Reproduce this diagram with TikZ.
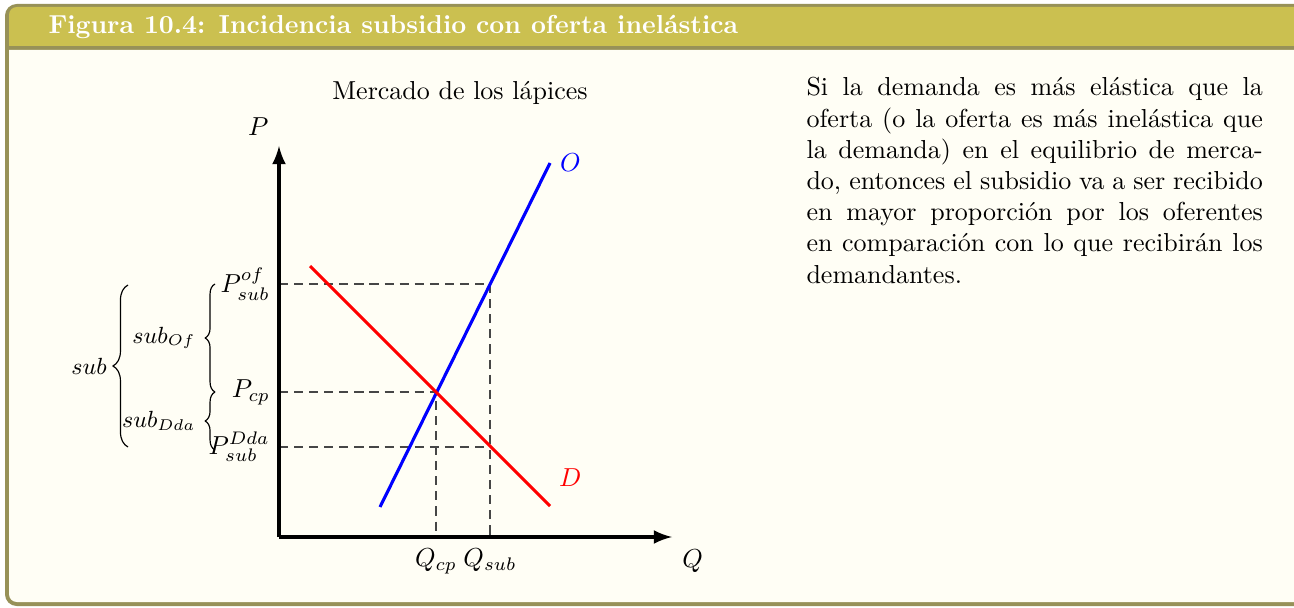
\documentclass[tikz,border=0pt]{standalone}
\usepackage{tikz}
\usetikzlibrary{decorations.pathreplacing}
\definecolor{frame}{RGB}{151,145,88}
\definecolor{titlebg}{RGB}{203,192,80}
\definecolor{paper}{RGB}{255,254,245}
\definecolor{guide}{RGB}{70,70,70}

\begin{document}
\begin{tikzpicture}[x=0.3846pt,y=0.3846pt,line join=round,
  axisline/.style={line width=1.4pt,-latex},
  curve/.style={line width=1.2pt},
  guideline/.style={guide,line width=.5pt,dash pattern=on 3.5pt off 2.3pt},
  bracepath/.style={decorate,decoration={brace,amplitude=#1},line width=.45pt}]
\clip (0,0) rectangle (1294,607);
% box
\path[fill=frame,rounded corners=4.5pt] (5,1) rectangle (1330,603);
\path[fill=titlebg] (9,561) [rounded corners=3pt] -- (9,600) -- (1326,600) [sharp corners] -- (1326,561) -- cycle;
\path[fill=paper] (9,557) [rounded corners=3pt] -- (9,5) -- (1326,5) [sharp corners] -- (1326,557) -- cycle;
\node[anchor=base west,inner sep=0,text=white,font=\bfseries] (title) at (48,573) {Figura 10.4: Incidencia subsidio con oferta inel\'astica};
% graph
\node[anchor=base] (market) at (460,507) {Mercado de los l\'apices};
\coordinate (orig) at (279,70);
\coordinate (ptop) at (279,461);
\coordinate (qend) at (672,70);
\coordinate (pof) at (279,323);
\coordinate (pcp) at (279,215);
\coordinate (pdda) at (279,160);
\coordinate (sof) at (490,323);
\coordinate (eq) at (436,215);
\coordinate (ddda) at (490,160);
\coordinate (qcp) at (436,70);
\coordinate (qsub) at (490,70);
\draw[guideline] (pof) -- (sof) -- (qsub);
\draw[guideline] (pcp) -- (eq) -- (qcp);
\draw[guideline] (pdda) -- (ddda);
\coordinate (s0) at (380,100);
\coordinate (s1) at (550,444);
\coordinate (d0) at (310,341);
\coordinate (d1) at (550,101);
\draw[curve,blue] (s0) -- (s1) node[right] (olab) {$O$};
\draw[curve,red] (d0) -- (d1);
\node[right,text=red] (dlab) at (550,129) {$D$};
\draw[axisline] (orig) -- (ptop) node[above left] (plab) {$P$};
\draw[axisline] (orig) -- (qend) node[below right,yshift=-1pt] (qlab) {$Q$};
\node[left] (pofl) at (pof) {$P^{of}_{sub}$};
\node[left] (pcpl) at (pcp) {$P_{cp}$};
\node[left] (pddal) at (pdda) {$P^{Dda}_{sub}$};
\node[below,yshift=-1pt] (qcpl) at (qcp) {$Q_{cp}$};
\node[below,yshift=-1pt] (qsubl) at (qsub) {$Q_{sub}$};
% braces
\draw[bracepath=3.8pt] (215,215) -- (215,323) node[midway,left=4pt,font=\small] (subof) {$sub_{Of}$};
\draw[bracepath=3.8pt] (215,157) -- (215,215) node[midway,left=4pt,font=\small] (subdda) {$sub_{Dda}$};
\draw[bracepath=5.8pt] (128,160) -- (128,322) node[midway,left=4.6pt,font=\small] (subtot) {$sub$};
% text
\node[anchor=north west,inner sep=0,text width=175.5pt,align=justify] (expl) at (806,530) {Si la demanda es m\'as el\'astica que la\linebreak oferta (o la oferta es m\'as inel\'astica que\linebreak la demanda) en el equilibrio de merca-\linebreak do, entonces el subsidio va a ser recibido\linebreak en mayor proporci\'on por los oferentes\linebreak en comparaci\'on con lo que recibir\'an los\linebreak demandantes.};
\end{tikzpicture}
\end{document}
